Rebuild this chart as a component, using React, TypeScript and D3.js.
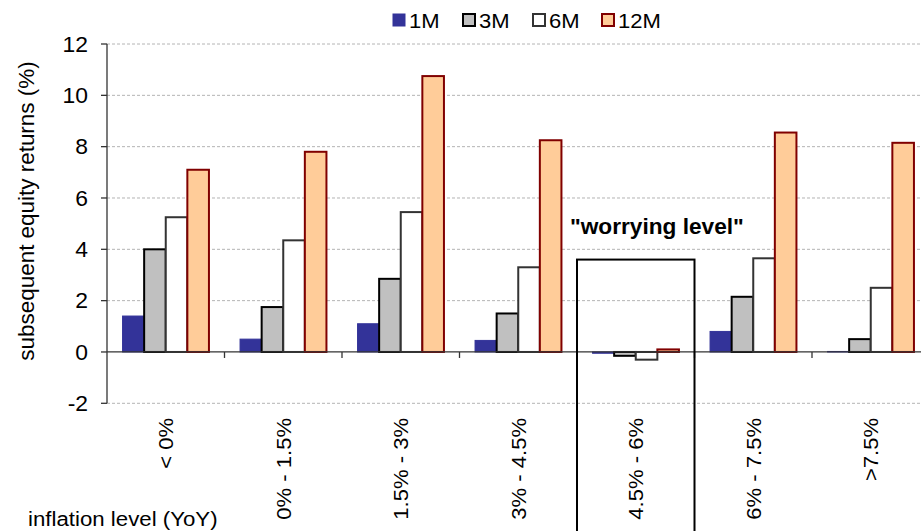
import React from "react";
import * as d3 from "d3";

const categories = ["< 0%", "0% - 1.5%", "1.5% - 3%", "3% - 4.5%", "4.5% - 6%", "6% - 7.5%", ">7.5%"];
const seriesNames = ["1M", "3M", "6M", "12M"];
const values1M = [1.4, 0.5, 1.1, 0.45, -0.05, 0.8, 0.02];
const values3M = [4.0, 1.75, 2.85, 1.5, -0.15, 2.15, 0.5];
const values6M = [5.25, 4.35, 5.45, 3.3, -0.3, 3.65, 2.5];
const values12M = [7.1, 7.8, 10.75, 8.25, 0.1, 8.55, 8.15];
const yTicks = [-2, 0, 2, 4, 6, 8, 10, 12];
const worryingCategory = "4.5% - 6%";
const worryingTop = 3.6;

const seriesValues = [values1M, values3M, values6M, values12M];
const fills = ["#333399", "#c0c0c0", "#ffffff", "#ffcc99"];
const strokes = ["#333399", "#000000", "#333333", "#800000"];
const strokeWidths = [1, 2, 2, 2];

const W = 921;
const H = 531;
const FONT = "'Liberation Sans', Arial, sans-serif";

export default function App() {
  const left = 107;
  const catW = 117.5;
  const x = d3.scaleBand<string>().domain(categories).range([left, left + catW * categories.length]).padding(0);
  const xi = d3.scaleBand<string>().domain(seriesNames).range([0, x.bandwidth()]).paddingInner(0).paddingOuter(0.72);
  const y = d3.scaleLinear().domain([-2, 12]).range([403.3, 44]);
  const y0 = y(0);

  return (
    <svg width={W} height={H} style={{ position: "absolute", left: 0, top: 0 }} fontFamily={FONT}>
      <rect x={0} y={0} width={W} height={H} fill="#fff" />
      {/* gridlines */}
      {yTicks.filter((t) => t !== 0).map((t) => (
        <line key={"g" + t} x1={left} x2={W} y1={y(t)} y2={y(t)} stroke="#b4b4b4" strokeWidth={1} strokeDasharray="3,2" />
      ))}
      {/* bars */}
      {categories.map((c, ci) => (
        <g key={c}>
          {seriesNames.map((s, si) => {
            const v = seriesValues[si][ci];
            const bx = (x(c) as number) + (xi(s) as number);
            const top = Math.min(y(v), y0);
            const h = Math.abs(y(v) - y0);
            return (
              <rect key={s} x={bx} y={top} width={xi.bandwidth()} height={h} fill={fills[si]}
                stroke={strokes[si]} strokeWidth={strokeWidths[si]} />
            );
          })}
        </g>
      ))}
      {/* zero line */}
      <line x1={left} x2={W} y1={y0} y2={y0} stroke="#333" strokeWidth={1.3} />
      {categories.map((c, i) => (
        <line key={"ct" + i} x1={(x(c) as number) + catW} x2={(x(c) as number) + catW} y1={y0} y2={y0 + 6} stroke="#333" strokeWidth={1.3} />
      ))}
      {/* y axis */}
      <line x1={left} x2={left} y1={y(12)} y2={y(-2)} stroke="#333" strokeWidth={1.3} />
      {yTicks.map((t) => (
        <g key={"yt" + t}>
          <line x1={left - 6} x2={left} y1={y(t)} y2={y(t)} stroke="#333" strokeWidth={1.3} />
          <text transform={`translate(88,${y(t) + 7.8}) scale(1.04,1)`} textAnchor="end" fontSize={22} fill="#000">{t}</text>
        </g>
      ))}
      {/* y title */}
      <text transform={`translate(34,211) rotate(-90) scale(1.02,1)`} textAnchor="middle" fontSize={22} fill="#000">subsequent equity returns (%)</text>
      {/* x labels */}
      {categories.map((c) => (
        <text key={"xl" + c} transform={`translate(${(x(c) as number) + catW / 2 + 7.5},418) rotate(-90) scale(1.05,1)`} textAnchor="end" fontSize={21} fill="#000">{c}</text>
      ))}
      <text transform={`translate(28,526) scale(1.06,1)`} fontSize={21} fill="#000">inflation level (YoY)</text>
      {/* worrying box */}
      <rect x={x(worryingCategory) as number} y={y(worryingTop)} width={catW} height={H} fill="none" stroke="#000" strokeWidth={2} />
      <text transform={`translate(570,234) scale(1.03,1)`} fontSize={22} fontWeight="bold" fill="#000">"worrying level"</text>
      {/* legend */}
      {seriesNames.map((s, i) => {
        const lx = [393, 463, 533, 602][i];
        return (
          <g key={"lg" + s}>
            <rect x={lx} y={14} width={12} height={12} fill={fills[i]} stroke={strokes[i]} strokeWidth={strokeWidths[i]} />
            <text transform={`translate(${lx + 16},28) scale(1.05,1)`} fontSize={21} fill="#000">{s}</text>
          </g>
        );
      })}
    </svg>
  );
}
